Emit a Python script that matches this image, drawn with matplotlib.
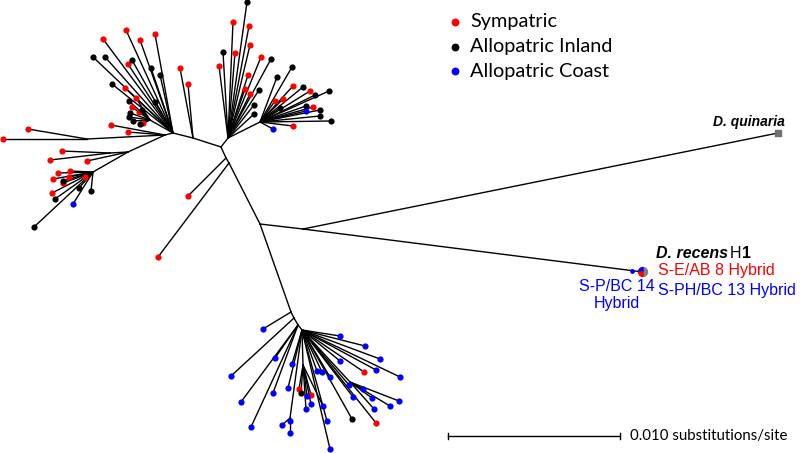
import matplotlib.pyplot as plt
from matplotlib.patches import Wedge

# Arbre non enraciné, coordonnées (pixels, y vers le bas)
nodes = {
    'A': (221, 147), 'UL2': (193, 138), 'UL': (173, 133), 'ULc': (150, 120),
    'L0': (165, 135), 'L1': (87, 139), 'LL1': (128, 152), 'LL2': (110, 153), 'LL': (93, 172),
    'UR': (228, 138), 'UR2': (260, 122),
    'B1': (226, 158), 'B2': (229, 163), 'D1': (260, 224), 'C': (303, 229),
    'quin': (778, 133), 'rec': (643, 272),
    'BT0': (291, 312), 'BT1': (294, 318), 'BT2': (298, 325), 'BT': (302, 330),
    'BM': (303, 365), 'BL': (290, 418), 'BR': (350, 382),
}
edges = [('A', 'UL2'), ('UL2', 'UL'), ('UL', 'ULc'), ('UL', 'L0'), ('L0', 'L1'), ('L0', 'LL1'),
         ('LL1', 'LL2'), ('LL1', 'LL'), ('A', 'UR'), ('UR', 'UR2'), ('A', 'B1'), ('B1', 'B2'),
         ('B2', 'D1'), ('D1', 'C'), ('C', 'quin'), ('C', 'rec'), ('D1', 'BT0'), ('BT0', 'BT1'),
         ('BT1', 'BT2'), ('BT2', 'BT'), ('BT', 'BM'), ('BT', 'BL'), ('BT', 'BR')]

# feuilles : (x, y, parent, groupe)  S = sympatrique, I = allopatrique intérieur, C = allopatrique côte
tips_upper_left = [
    (126, 30, 'UL', 'S'), (103, 39, 'UL', 'S'), (140, 40, 'UL', 'S'), (155, 34, 'UL', 'S'),
    (128, 64, 'UL', 'S'), (125, 88, 'UL', 'S'), (111, 125, 'L0', 'S'), (128, 132, 'L0', 'S'),
    (180, 68, 'UL2', 'S'), (188, 84, 'UL2', 'S'),
    (93, 57, 'UL', 'I'), (105, 57, 'UL', 'I'), (132, 60, 'UL', 'I'), (151, 68, 'UL', 'I'),
    (160, 75, 'UL', 'I'), (112, 84, 'UL', 'I'), (155, 102, 'UL', 'I'),
    (136, 98, 'ULc', 'S'), (132, 107, 'ULc', 'S'), (139, 112, 'ULc', 'S'), (143, 123, 'ULc', 'S'),
    (129, 101, 'ULc', 'I'), (130, 113, 'ULc', 'I'), (142, 110, 'ULc', 'I'), (133, 121, 'ULc', 'I'),
    (140, 124, 'ULc', 'I'), (129, 117, 'ULc', 'I'),
]
tips_left = [
    (3, 139, 'L1', 'S'), (28, 129, 'L1', 'S'), (87, 161, 'LL1', 'S'),
    (62, 151, 'LL2', 'S'), (50, 160, 'LL2', 'S'),
    (58, 173, 'LL', 'S'), (70, 171, 'LL', 'S'), (53, 179, 'LL', 'S'), (69, 177, 'LL', 'S'),
    (63, 183, 'LL', 'S'), (52, 193, 'LL', 'S'), (85, 177, 'LL', 'S'),
    (63, 181, 'LL', 'I'), (79, 188, 'LL', 'I'), (91, 191, 'LL', 'I'), (55, 199, 'LL', 'I'),
    (34, 227, 'LL', 'I'), (73, 204, 'LL', 'C'),
]
tips_upper_right = [
    (247, 2, 'UR', 'I'), (223, 52, 'UR', 'I'), (271, 59, 'UR', 'I'), (259, 90, 'UR', 'I'),
    (254, 105, 'UR', 'I'), (254, 114, 'UR', 'I'),
    (233, 22, 'UR', 'S'), (249, 26, 'UR', 'S'), (250, 45, 'UR', 'S'), (235, 53, 'UR', 'S'),
    (261, 57, 'UR', 'S'), (219, 66, 'UR', 'S'), (248, 75, 'UR', 'S'), (245, 89, 'UR', 'S'),
    (250, 94, 'UR', 'S'),
    (292, 67, 'UR2', 'I'), (277, 77, 'UR2', 'I'), (303, 87, 'UR2', 'I'), (315, 95, 'UR2', 'I'),
    (329, 91, 'UR2', 'I'), (280, 108, 'UR2', 'I'), (306, 106, 'UR2', 'I'), (320, 110, 'UR2', 'I'),
    (320, 116, 'UR2', 'I'), (331, 121, 'UR2', 'I'),
    (293, 86, 'UR2', 'S'), (283, 99, 'UR2', 'S'), (275, 101, 'UR2', 'S'), (310, 91, 'UR2', 'S'),
    (313, 107, 'UR2', 'S'), (293, 126, 'UR2', 'S'),
    (306, 111, 'UR2', 'C'), (273, 129, 'UR2', 'C'),
]
tips_middle = [(188, 196, 'B1', 'S'), (158, 257, 'B2', 'S')]
tips_bottom = [
    (263, 329, 'BT0', 'C'), (231, 376, 'BT1', 'C'),
    (241, 402, 'BT2', 'C'), (251, 427, 'BT2', 'C'), (273, 393, 'BT2', 'C'), (275, 358, 'BT2', 'C'),
    (340, 336, 'BT', 'C'), (365, 346, 'BT', 'C'), (380, 359, 'BT', 'C'), (292, 364, 'BT', 'C'),
    (288, 388, 'BT', 'C'), (317, 371, 'BT', 'C'), (322, 372, 'BT', 'C'), (330, 377, 'BT', 'C'),
    (340, 361, 'BT', 'C'), (376, 370, 'BT', 'C'), (349, 385, 'BT', 'C'), (353, 397, 'BT', 'C'),
    (327, 421, 'BT', 'C'), (330, 449, 'BT', 'C'), (400, 377, 'BT', 'C'),
    (364, 372, 'BT', 'S'), (376, 423, 'BT', 'S'), (352, 419, 'BT', 'I'),
    (299, 389, 'BM', 'S'), (311, 395, 'BM', 'S'), (301, 393, 'BM', 'I'),
    (307, 396, 'BM', 'C'), (311, 404, 'BM', 'C'), (306, 409, 'BM', 'C'), (323, 406, 'BM', 'C'),
    (282, 425, 'BL', 'C'), (290, 433, 'BL', 'C'), (290, 421, 'BL', 'C'),
    (363, 389, 'BR', 'C'), (372, 398, 'BR', 'C'), (374, 409, 'BR', 'C'), (390, 406, 'BR', 'C'),
    (399, 401, 'BR', 'C'),
]
tips = tips_upper_left + tips_left + tips_upper_right + tips_middle + tips_bottom

groups = ['S', 'I', 'C']
group_labels = ['Sympatric', 'Allopatric Inland', 'Allopatric Coast']
group_colors = ['#ff0000', '#000000', '#0000ff']

fig = plt.figure(figsize=(8, 4.53), dpi=100)
ax = fig.add_axes([0, 0, 1, 1])
ax.set_xlim(0, 800)
ax.set_ylim(453, 0)
ax.axis('off')

# branches
for p, c in edges:
    (x0, y0), (x1, y1) = nodes[p], nodes[c]
    ax.plot([x0, x1], [y0, y1], color='black', lw=1.0, zorder=1)
for x, y, p, g in tips:
    px, py = nodes[p]
    ax.plot([px, x], [py, y], color='black', lw=1.0, zorder=1)

# feuilles colorées
for g, col in zip(groups, group_colors):
    xs = [t[0] for t in tips if t[3] == g]
    ys = [t[1] for t in tips if t[3] == g]
    ax.scatter(xs, ys, s=20, color=col, linewidths=0, zorder=3)

# groupes externes
qx, qy = nodes['quin']
ax.scatter([qx], [qy], s=22, marker='s', color='#707070', zorder=3)
rx, ry = nodes['rec']
ax.scatter([632], [271], s=12, color='#0000ff', linewidths=0, zorder=3)
ax.add_patch(Wedge((rx, ry), 4.5, -90, 90, color='#808080', zorder=3))
ax.add_patch(Wedge((rx, ry), 4.5, 180, 270, color='#0000ff', zorder=3))
ax.add_patch(Wedge((rx, ry), 4.5, 90, 180, color='#ff0000', zorder=3))

ax.text(785, 122, 'D. quinaria', ha='right', va='center', fontsize=10, fontweight='bold',
        style='italic', family='Liberation Sans')
ax.text(656, 253, 'D. recens', ha='left', va='center', fontsize=11.5, fontweight='bold',
        style='italic', family='Liberation Sans')
ax.text(730, 253, 'H', ha='left', va='center', fontsize=11.5, family='Liberation Sans')
ax.text(742, 253, '1', ha='left', va='center', fontsize=11.5, fontweight='bold', family='Liberation Sans')
ax.text(658, 271, 'S-E/AB 8 Hybrid', ha='left', va='center', fontsize=11.5,
        color='#ff0000', family='Liberation Sans')
ax.text(658, 290, 'S-PH/BC 13 Hybrid', ha='left', va='center', fontsize=11.5,
        color='#0000ff', family='Liberation Sans')
ax.text(617, 295, 'S-P/BC 14\nHybrid', ha='center', va='center', fontsize=11.5,
        color='#0000ff', family='Liberation Sans', linespacing=1.15)

# légende
for i, (lab, col) in enumerate(zip(group_labels, group_colors)):
    y = 22 + i * 24.5
    ax.scatter([455], [y], s=32, color=col, linewidths=0, zorder=3)
    ax.text(470, y, lab, ha='left', va='center', fontsize=14.3, family='Lato')

# échelle
ax.plot([448, 620], [436, 436], color='black', lw=1.0)
ax.plot([448, 448], [433, 439], color='black', lw=1.0)
ax.plot([620, 620], [433, 439], color='black', lw=1.0)
ax.text(630, 436, '0.010 substitutions/site', ha='left', va='center', fontsize=10.8, family='Lato')

fig.savefig('out.png', dpi=100)
